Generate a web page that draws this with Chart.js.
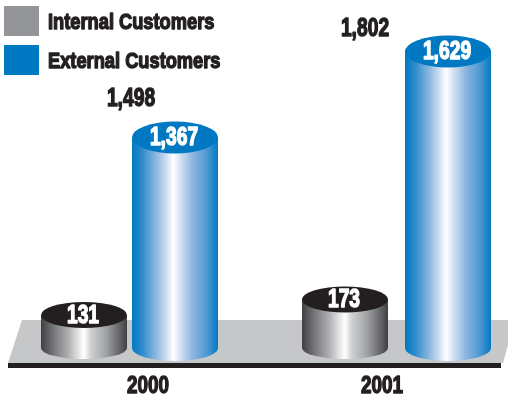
<!DOCTYPE html>
<html>
<head>
<meta charset="utf-8">
<style>html,body{margin:0;padding:0;background:#fff}canvas{display:block}</style>
<script src="https://cdn.jsdelivr.net/npm/chart.js@4"></script>
</head>
<body>
<canvas id="chart" width="508" height="397"></canvas>
<script>
// Customer counts per year
const years = ['2000', '2001'];
const internalCustomers = [131, 173];
const externalCustomers = [1367, 1629];
const totalCustomers = [1498, 1802];
const seriesNames = ['Internal Customers', 'External Customers'];

// The value axis is hidden and not proportional: each stop gives the share of the plot height
const axisStops = [0, 131, 173, 1367, 1498, 1629, 1802, 2000];
const axisShares = [0, 0.0948, 0.1394, 0.6049, 0.7155, 0.852, 0.9167, 1];

// Sideways shift of each column from its grouped slot, per series and year
const columnShift = [[-21, 6], [-16, 23]];
const capRadius = [13, 16];
const totalShift = -17;

const FONT = '"Liberation Sans", sans-serif';
const INK = '#231f20';
const BLUE = '#0079c2';
const GREY = '#939598';

class StopScale extends Chart.LinearScale {
  static id = 'stops';
  static defaults = Chart.LinearScale.defaults;
  getPixelForValue(v) {
    let i = 1;
    while (i < axisStops.length - 1 && v > axisStops[i]) i++;
    const t = (v - axisStops[i - 1]) / (axisStops[i] - axisStops[i - 1]);
    const share = axisShares[i - 1] + t * (axisShares[i] - axisShares[i - 1]);
    return this.bottom - share * (this.bottom - this.top);
  }
}
Chart.register(StopScale);

function shading(ctx, left, width, stops) {
  const g = ctx.createLinearGradient(left, 0, left + width, 0);
  stops.forEach(([at, colour]) => g.addColorStop(at, colour));
  return g;
}
const blueShade = [[0, '#0079c2'], [0.12, '#2f8ccb'], [0.3, '#97bce2'], [0.4, '#cfdff1'], [0.48, '#ffffff'],
  [0.56, '#d5e3f3'], [0.7, '#8fb6e0'], [0.88, '#4a97d2'], [1, '#0079c2']];
const greyShade = [[0, '#404042'], [0.14, '#737476'], [0.32, '#b0b1b3'], [0.44, '#e6e6e7'], [0.5, '#ffffff'],
  [0.58, '#cfd0d1'], [0.76, '#a0a1a3'], [0.92, '#616264'], [1, '#404042']];

// Tall, heavy condensed lettering: the bold face squeezed horizontally and thickened with a stroke
function heavyText(ctx, text, x, y, size, colour, squeeze) {
  ctx.font = 'bold ' + size + 'px ' + FONT;
  const width = ctx.measureText(text).width * squeeze;
  ctx.fillStyle = colour;
  ctx.strokeStyle = colour;
  ctx.lineWidth = 1.4;
  ctx.lineJoin = 'round';
  ctx.strokeText(text, x, y, width);
  ctx.fillText(text, x, y, width);
}

const scenery = {
  id: 'scenery',
  beforeDatasetsDraw(chart) {
    const ctx = chart.ctx;
    ctx.save();
    // Floor plate under the columns
    ctx.fillStyle = '#c6c7c9';
    ctx.beginPath();
    ctx.moveTo(22, 320); ctx.lineTo(508, 320); ctx.lineTo(508, 345); ctx.lineTo(503, 363); ctx.lineTo(8, 363);
    ctx.closePath();
    ctx.fill();
    ctx.fillStyle = INK;
    ctx.fillRect(8, 363, 493, 5);
    ctx.restore();
  },
  beforeDatasetDraw(chart, args) {
    const ctx = chart.ctx;
    const i = args.index;
    const shade = i === 0 ? greyShade : blueShade;
    const capColour = i === 0 ? INK : BLUE;
    args.meta.data.forEach((bar, j) => {
      const w = bar.width, x = bar.x + columnShift[i][j] - w / 2, r = capRadius[i];
      const baseR = i === 0 ? 11 : 13;
      ctx.save();
      ctx.fillStyle = shading(ctx, x, w, shade);
      ctx.beginPath();
      ctx.moveTo(x, bar.y);
      ctx.lineTo(x, bar.base);
      ctx.ellipse(x + w / 2, bar.base, w / 2, baseR, 0, Math.PI, 0, true);
      ctx.lineTo(x + w, bar.y);
      ctx.closePath();
      ctx.fill();
      ctx.fillStyle = capColour;
      ctx.beginPath();
      ctx.ellipse(x + w / 2, bar.y, w / 2, r, 0, 0, Math.PI * 2);
      ctx.fill();
      ctx.textAlign = 'center';
      ctx.textBaseline = 'middle';
      const shown = chart.data.datasets[i].data[j].toLocaleString('en-US');
      heavyText(ctx, shown, x + w / 2 - 1, bar.y + 1, 25, '#ffffff', 0.77);
      ctx.restore();
    });
    return false;
  },
  afterDatasetsDraw(chart) {
    const ctx = chart.ctx;
    ctx.save();
    ctx.textAlign = 'center';
    ctx.textBaseline = 'middle';
    // Year totals sit on the same value axis as the columns
    totalCustomers.forEach((total, j) => {
      heavyText(ctx, total.toLocaleString('en-US'), chart.scales.x.getPixelForTick(j) + totalShift,
        chart.scales.y.getPixelForValue(total), 25, INK, 0.77);
    });
    // Category labels below the floor
    chart.scales.x.getLabels().forEach((year, j) => {
      heavyText(ctx, year, chart.scales.x.getPixelForTick(j), chart.scales.x.top + 39, 23, INK, 0.82);
    });
    // Legend
    ctx.textAlign = 'left';
    [[GREY, 6], [BLUE, 45]].forEach(([colour, top], i) => {
      ctx.fillStyle = colour;
      ctx.fillRect(4, top, 35, 30);
      heavyText(ctx, seriesNames[i], 48, top + 17, 22, INK, 0.83);
    });
    ctx.restore();
  }
};

new Chart(document.getElementById('chart'), {
  type: 'bar',
  data: {
    labels: years,
    datasets: [
      { label: seriesNames[0], data: internalCustomers, backgroundColor: GREY },
      { label: seriesNames[1], data: externalCustomers, backgroundColor: BLUE }
    ]
  },
  options: {
    responsive: false,
    animation: false,
    events: [],
    barThickness: 86,
    layout: { padding: { left: 148, right: 126, top: 0, bottom: 0 } },
    plugins: { legend: { display: false }, tooltip: { enabled: false } },
    scales: {
      x: {
        offset: false,
        grid: { display: false },
        border: { display: false },
        afterFit(scale) { scale.height = 49; },
        ticks: { display: false }
      },
      y: { type: 'stops', display: false, min: 0, max: 2000 }
    }
  },
  plugins: [scenery]
});
</script>
</body>
</html>
